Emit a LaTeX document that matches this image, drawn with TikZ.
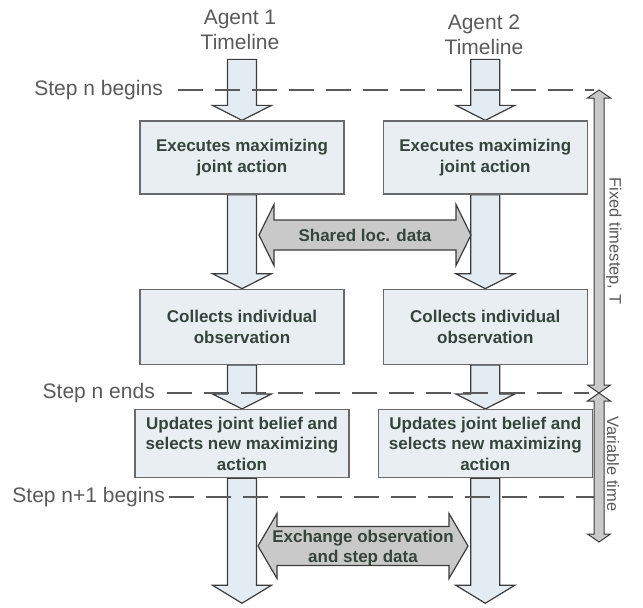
\documentclass[tikz,border=0pt]{standalone}
\usepackage{fontspec}
\setmainfont{Liberation Sans}
\usetikzlibrary{calc,positioning,backgrounds}
\definecolor{boxfill}{HTML}{E9EEF2}
\definecolor{boxline}{HTML}{6A6A6A}
\definecolor{boxtext}{HTML}{34463A}
\definecolor{labelgray}{HTML}{5A5A5A}
\definecolor{arrowline}{HTML}{3C3C3C}
\definecolor{lanefill}{HTML}{E3ECF2}
\definecolor{msgfill}{HTML}{C9C9C9}
\tikzset{
  procbox/.style={
    draw=boxline,
    fill=boxfill,
    line width=1.3pt,
    minimum width=204pt,
    minimum height=73pt,
    inner sep=2pt,
    align=center,
    text=boxtext,
    font=\fontsize{17}{20.5}\selectfont\bfseries
  },
  lanelabel/.style={
    align=center,
    text=labelgray,
    inner sep=0pt,
    font=\fontsize{21}{25}\selectfont
  },
  steplabel/.style={
    anchor=east,
    text=labelgray,
    inner sep=0pt,
    font=\fontsize{21}{25}\selectfont
  },
  timelabel/.style={
    rotate=-90,
    text=labelgray,
    inner sep=0pt,
    font=\fontsize{16.5}{20}\selectfont
  },
  msgtext/.style={
    align=center,
    text=boxtext,
    inner sep=0pt,
    font=\fontsize{17}{20.5}\selectfont\bfseries
  },
  stepline/.style={
    draw=labelgray,
    line width=1.3pt,
    dash pattern=on 25pt off 12pt
  },
  lanearrow/.style n args={3}{
    draw=arrowline,
    fill=lanefill,
    line width=1.2pt,
    to path={let \p1=(\tikztostart), \p2=(\tikztotarget) in
      (\x1-#1,\y1) -- (\x1-#1,\y2+#3) -- (\x1-#2,\y2+#3) -- (\x1,\y2)
      -- (\x1+#2,\y2+#3) -- (\x1+#1,\y2+#3) -- (\x1+#1,\y1) -- cycle}
  },
  msgarrow/.style n args={3}{
    draw=arrowline,
    fill=msgfill,
    line width=1.2pt,
    to path={let \p1=(\tikztostart), \p2=(\tikztotarget) in
      (\x1,\y1) -- (\x1+#3,\y1+#2) -- (\x1+#3,\y1+#1) -- (\x2-#3,\y1+#1)
      -- (\x2-#3,\y1+#2) -- (\x2,\y1) -- (\x2-#3,\y1-#2) -- (\x2-#3,\y1-#1)
      -- (\x1+#3,\y1-#1) -- (\x1+#3,\y1-#2) -- cycle}
  },
  timearrow/.style n args={3}{
    draw=arrowline,
    fill=msgfill,
    line width=1pt,
    to path={let \p1=(\tikztostart), \p2=(\tikztotarget) in
      (\x1,\y1) -- (\x1+#2,\y1-#3) -- (\x1+#1,\y1-#3) -- (\x1+#1,\y2+#3)
      -- (\x1+#2,\y2+#3) -- (\x1,\y2) -- (\x1-#2,\y2+#3) -- (\x1-#1,\y2+#3)
      -- (\x1-#1,\y1-#3) -- (\x1-#2,\y1-#3) -- cycle}
  }
}

\begin{document}
\begin{tikzpicture}[x=1pt, y=-1pt]
    \useasboundingbox (0,0) rectangle (643,608);

    \node[lanelabel] (ag1) at (240,30) {Agent 1\\Timeline};
    \node[lanelabel] (ag2) at (484,35) {Agent 2\\Timeline};

    \node[procbox] (ex1) at (242,157.5) {Executes maximizing\\joint action};
    \node[procbox, right=38pt of ex1] (ex2) {Executes maximizing\\joint action};
    \node[procbox, minimum height=75pt, below=94pt of ex1] (col1) {Collects individual\\observation};
    \node[procbox, minimum height=75pt, below=94pt of ex2] (col2) {Collects individual\\observation};
    \node[procbox, minimum width=214pt, minimum height=68pt, below=44pt of col1] (upd1) {Updates joint belief and\\selects new maximizing\\action};
    \node[procbox, minimum width=214pt, minimum height=68pt, below=44pt of col2] (upd2) {Updates joint belief and\\selects new maximizing\\action};

    \coordinate (a1top) at ([yshift=61pt]ex1.north);
    \coordinate (a2top) at ([yshift=61pt]ex2.north);
    \coordinate (a1end) at ([yshift=-125pt]upd1.south);
    \coordinate (a2end) at ([yshift=-125pt]upd2.south);
    \coordinate (sh-l) at (259,235);
    \coordinate (sh-r) at (471,235);
    \coordinate (xc-l) at (258,546);
    \coordinate (xc-r) at (468,546);
    \coordinate (t0) at (599,90);
    \coordinate (t1) at (599,393);
    \coordinate (t2) at (599,542);

    \begin{scope}[on background layer]
        \draw[lanearrow={14.5pt}{29.5pt}{15pt}] (a1top) to (ex1.north);
        \draw[lanearrow={14.5pt}{29.5pt}{15pt}] (a2top) to (ex2.north);
        \draw[lanearrow={14.5pt}{29.5pt}{15pt}] (ex1.south) to (col1.north);
        \draw[lanearrow={14.5pt}{29.5pt}{15pt}] (ex2.south) to (col2.north);
        \draw[lanearrow={14.5pt}{29.5pt}{15pt}] (col1.south) to (upd1.north);
        \draw[lanearrow={14.5pt}{29.5pt}{15pt}] (col2.south) to (upd2.north);
        \draw[lanearrow={14.5pt}{29.5pt}{18pt}] (upd1.south) to (a1end);
        \draw[lanearrow={14.5pt}{29.5pt}{18pt}] (upd2.south) to (a2end);
        \draw[msgarrow={15pt}{30.5pt}{15pt}] (sh-l) to (sh-r);
        \draw[msgarrow={19.5pt}{32.5pt}{19pt}] (xc-l) to (xc-r);
    \end{scope}

    \node[msgtext] (shared) at ($(sh-l)!0.5!(sh-r)$) {Shared loc. data};
    \node[msgtext] (xchg) at ($(xc-l)!0.5!(xc-r)+(0,2)$) {Exchange observation\\and step data};

    \draw[timearrow={5pt}{11.5pt}{8pt}] (t0) to (t1);
    \draw[timearrow={5pt}{11.5pt}{8pt}] (t1) to (t2);
    \node[timelabel] (fixed) at (614,241) {Fixed timestep, T};
    \node[timelabel] (vartime) at (613,464) {Variable time};

    \node[steplabel] (sbeg) at (163,90) {Step n begins};
    \node[steplabel] (send) at (155,393) {Step n ends};
    \node[steplabel] (snext) at (165,497) {Step n+1 begins};
    \draw[stepline] ([xshift=15pt]sbeg.east) -- ([xshift=-5pt]sbeg.east -| t0);
    \draw[stepline] ([xshift=12pt]send.east) -- ([xshift=-10pt]send.east -| t1);
    \draw[stepline] ([xshift=4pt]snext.east) -- ([xshift=-5pt]snext.east -| t2);
\end{tikzpicture}
\end{document}
